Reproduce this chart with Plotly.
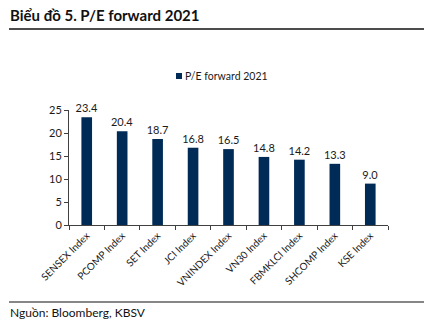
import plotly.graph_objects as go

categories = ["SENSEX Index", "PCOMP Index", "SET Index", "JCI Index", "VNINDEX Index",
              "VN30 Index", "FBMKLCI Index", "SHCOMP Index", "KSE Index"]
pe_values = [23.4, 20.4, 18.7, 16.8, 16.5, 14.8, 14.2, 13.3, 9.0]
series_name = "P/E forward 2021"
y_ticks = [0, 5, 10, 15, 20, 25]

FONT = "Lato, 'Open Sans', sans-serif"
NAVY = "#002B57"

L, R, T, B = 69, 388, 110, 225
W, H = R - L, B - T


def px(x):
    return (x - L) / W


def py(y):
    return (B - y) / H


fig = go.Figure()
fig.add_trace(go.Bar(
    x=categories, y=pe_values, name=series_name,
    marker=dict(color=NAVY, line=dict(width=0)),
    width=0.3,
    text=[f"{v:.1f}" for v in pe_values], textposition="outside",
    constraintext="none",
    textfont=dict(size=11, color="#1a1a1a", family=FONT),
    cliponaxis=False, showlegend=False,
))

fig.update_layout(
    width=424, height=322,
    margin=dict(l=L, r=424 - R, t=T, b=322 - B),
    paper_bgcolor="white", plot_bgcolor="white",
    font=dict(family=FONT, size=10, color="#1a1a1a"),
    showlegend=False,
    bargap=0.7,
    xaxis=dict(showline=True, linecolor="#404040", linewidth=1,
               ticks="outside", ticklen=4, tickcolor="#404040",
               tickson="boundaries", tickangle=-45,
               tickfont=dict(size=10, color="#1a1a1a"), showgrid=False),
    yaxis=dict(range=[0, 25], tickvals=y_ticks, showline=True,
               linecolor="#404040", linewidth=1, ticks="outside", ticklen=4,
               tickcolor="#404040", showgrid=False, zeroline=False,
               tickfont=dict(size=11, color="#1a1a1a")),
)

# legend (square + label)
fig.add_shape(type="rect", xref="paper", yref="paper", x0=px(176), x1=px(182),
              y0=py(79), y1=py(73), fillcolor=NAVY, line=dict(width=0))
fig.add_annotation(text=series_name, xref="paper", yref="paper",
                   x=px(183), y=py(76), xanchor="left", yanchor="middle", showarrow=False,
                   font=dict(size=10.5, color="#1a1a1a", family=FONT))

fig.add_annotation(text="<b>Biểu đồ 5. P/E forward 2021</b>", xref="paper", yref="paper",
                   x=px(8), y=py(15), xanchor="left", yanchor="middle", showarrow=False,
                   font=dict(size=15, color="#111111", family=FONT))
fig.add_annotation(text="Nguồn: Bloomberg, KBSV", xref="paper", yref="paper",
                   x=px(8), y=py(312), xanchor="left", yanchor="middle", showarrow=False,
                   font=dict(size=12, color="#111111", family=FONT))
fig.add_shape(type="line", xref="paper", yref="paper", x0=px(9), x1=px(424),
              y0=py(29), y1=py(29), line=dict(color="#111111", width=1.5))
fig.add_shape(type="line", xref="paper", yref="paper", x0=px(9), x1=px(424),
              y0=py(302), y1=py(302), line=dict(color="#111111", width=1.2))

fig.write_html("out.html")
